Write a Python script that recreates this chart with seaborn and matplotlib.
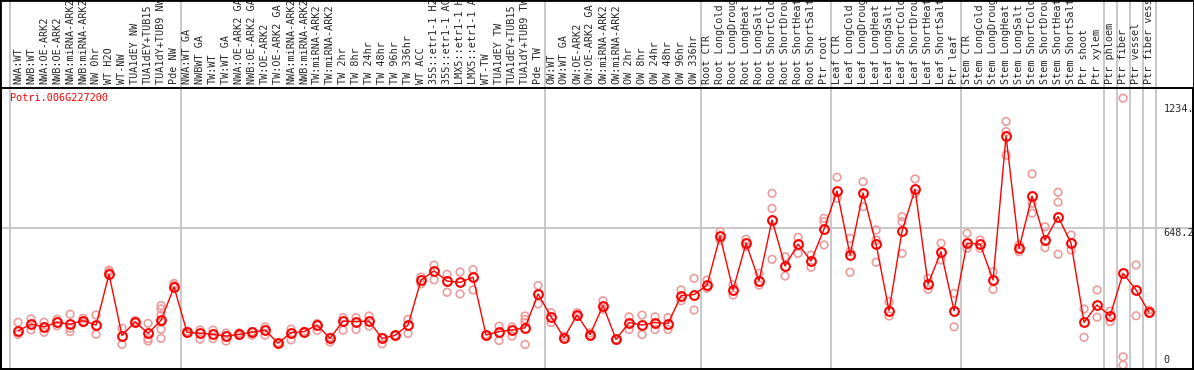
"""Expression profile of Potri.006G227200 across poplar samples."""

import matplotlib

matplotlib.use("Agg")
import matplotlib.pyplot as plt
import matplotlib.transforms as mtransforms
from matplotlib.patches import Rectangle
import pandas as pd
import seaborn as sns

GENE = "Potri.006G227200"

SAMPLES = [
    "NWA:WT", "NWB:WT", "NWA:OE-ARK2", "NWB:OE-ARK2", "NWA:miRNA-ARK2",
    "NWB:miRNA-ARK2", "NW 0hr", "WT H2O", "WT-NW", "TUA1dEY NW",
    "TUA1dEY+TUB15", "TUA1dY+TUB9 NW", "Pde NW",
    "NWA:WT GA", "NWBWT GA", "TW:WT", "TW:WT GA", "NWA:OE-ARK2 GA",
    "NWB:OE-ARK2 GA", "TW:OE-ARK2", "TW:OE-ARK2 GA", "NWA:miRNA-ARK2",
    "NWB:miRNA-ARK2", "TW:miRNA-ARK2", "TW:miRNA-ARK2", "TW 2hr", "TW 8hr",
    "TW 24hr", "TW 48hr", "TW 96hr", "TW 336hr", "WT ACC", "35S::etr1-1 H2",
    "35S::etr1-1 AC", "LMX5::etr1-1 H", "LMX5::etr1-1 A", "WT-TW",
    "TUA1dEY TW", "TUA1dEY+TUB15", "TUA1dY+TUB9 TW", "Pde TW",
    "OW:WT", "OW:WT GA", "OW:OE-ARK2", "OW:OE-ARK2 GA", "OW:miRNA-ARK2",
    "OW:miRNA-ARK2", "OW 2hr", "OW 8hr", "OW 24hr", "OW 48hr", "OW 96hr",
    "OW 336hr",
    "Root CTR", "Root LongCold", "Root LongDroug", "Root LongHeat",
    "Root LongSalt", "Root ShortCold", "Root ShortDrou", "Root ShortHeat",
    "Root ShortSalt", "Ptr root",
    "Leaf CTR", "Leaf LongCold", "Leaf LongDroug", "Leaf LongHeat",
    "Leaf LongSalt", "Leaf ShortCold", "Leaf ShortDrou", "Leaf ShortHeat",
    "Leaf ShortSalt", "Ptr leaf",
    "Stem CTR", "Stem LongCold", "Stem LongDroug", "Stem LongHeat",
    "Stem LongSalt", "Stem ShortCold", "Stem ShortDrou", "Stem ShortHeat",
    "Stem ShortSalt", "Ptr shoot", "Ptr xylem",
    "Ptr phloem", "Ptr fiber", "Ptr vessel", "Ptr fiber vess",
]

MEANS = [
    162, 193, 180, 202, 193, 210, 189, 429, 139, 205, 150, 211, 369,
    155, 150, 145, 137, 145, 155, 166, 103, 153, 158, 189, 126, 208, 205,
    208, 126, 140, 189, 402, 445, 397, 391, 415, 142, 158, 166, 176, 336,
    229, 128, 237, 144, 281, 121, 201, 189, 201, 196, 328, 333,
    378, 610, 355, 576, 399, 686, 468, 572, 492, 643,
    823, 520, 814, 572, 257, 634, 831, 383, 536, 257,
    576, 572, 402, 1083, 552, 799, 591, 702, 576, 202, 284,
    232, 434, 355, 249,
]

REPLICATES = [
    [202, 145], [218, 166], [202, 155], [216, 186], [240, 174, 158],
    [221, 200], [237, 145], [449, 441], [174, 98], [200, 210],
    [197, 126, 114], [281, 265, 237, 202, 169, 126], [386, 378],
    [150, 160], [166, 122], [165, 125], [151, 113], [152, 140], [141, 158],
    [180, 141], [100, 106], [170, 119], [155, 160], [196, 164], [132, 109],
    [224, 165], [224, 168], [232, 184], [100, 130], [141, 138], [216, 149],
    [416, 384], [472, 403], [429, 344], [440, 336], [451, 355], [144, 140],
    [184, 116], [180, 137], [232, 216, 201, 97], [376, 289],
    [248, 201], [137, 125], [248, 230], [152, 140], [304, 264], [121, 118],
    [228, 168], [236, 144], [228, 168], [224, 168], [355, 304], [410, 260],
    [402, 363], [631, 591], [378, 331], [595, 560], [434, 378],
    [812, 741, 500], [512, 421], [604, 528], [520, 462], [694, 678, 568],
    [888, 789], [599, 536, 439], [867, 749], [639, 591, 486], [299, 232],
    [702, 678, 528], [880, 812], [410, 358], [576, 497], [339, 181],
    [623, 552], [591, 552], [441, 358], [1152, 1104, 993], [536, 568],
    [904, 765, 718], [654, 555], [817, 770, 524], [615, 544], [265, 131],
    [355, 226], [255, 205], [1262, 39, 0], [473, 233], [245, 260],
]

GROUP_BREAKS = [-0.6, 12.5, 40.5, 52.5, 62.5, 72.5, 83.5, 84.5, 85.5, 86.5, 87.5]
MID_TICK = 648.2

df_mean = pd.DataFrame({"idx": range(len(SAMPLES)), "value": MEANS})
df_rep = pd.DataFrame(
    [(i, v) for i, reps in enumerate(REPLICATES) for v in reps],
    columns=["idx", "value"],
)

sns.set_style("white")
plt.rcParams["font.family"] = ["DejaVu Sans Mono", "DejaVu Sans"]

fig = plt.figure(figsize=(11.94, 3.70), dpi=100)
ax = fig.add_axes([1 / 1194, 1 / 370, 1192 / 1194, 281 / 370])
ax.set_xlim(-1.31, 90.38)
ax.set_ylim(-18.9, 1310.3)

grid = "#c4c4c4"
top_frac = 369 / 281
for b in GROUP_BREAKS:
    ax.axvline(b, ymin=0, ymax=top_frac, color=grid, lw=1.3, clip_on=False, zorder=0)
ax.axhline(MID_TICK, color=grid, lw=1.3, zorder=0)

sns.scatterplot(
    data=df_rep, x="idx", y="value", ax=ax, marker="o", s=30,
    facecolor="none", edgecolor="#ec9c9c", linewidth=1.2, zorder=2, legend=False,
)
sns.lineplot(
    data=df_mean, x="idx", y="value", ax=ax, color="red", lw=1.0,
    marker="o", markersize=6.3, markerfacecolor="none", markeredgecolor="red",
    markeredgewidth=1.5, zorder=3, legend=False,
)

ax.set_xticks([])
ax.set_yticks([])
ax.set_xlabel("")
ax.set_ylabel("")
for side in ax.spines.values():
    side.set_color("black")
    side.set_linewidth(1.4)

trans = mtransforms.blended_transform_factory(ax.transData, ax.transAxes)
for i, name in enumerate(SAMPLES):
    ax.text(i, 1.015, name, rotation=90, ha="center", va="bottom",
            fontsize=7.3, transform=trans, clip_on=False)

ax.text(-0.62, 0.982, GENE, color="red", fontsize=7.3, ha="left", va="top",
        transform=trans)
ax.text(88.1, 1234, "1234.", fontsize=7.3, ha="left", va="top")
ax.text(88.1, MID_TICK, f"{MID_TICK}", fontsize=7.3, ha="left", va="top")
ax.text(88.1, 0, "0", fontsize=7.3, ha="left", va="bottom")

fig.patches.append(Rectangle((0, 0), 1, 1, transform=fig.transFigure,
                             fill=False, edgecolor="black", lw=2.0))

fig.savefig("out.png", dpi=100)
